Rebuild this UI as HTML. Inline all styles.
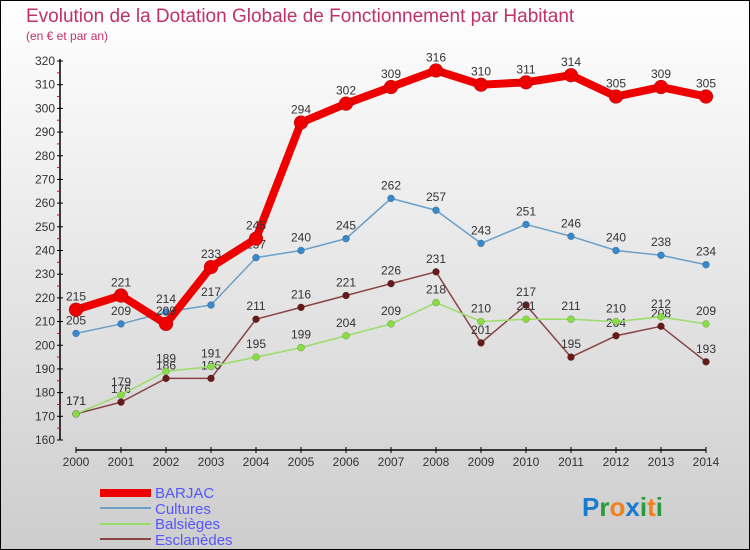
<!DOCTYPE html>
<html><head><meta charset="utf-8"><style>
html,body{margin:0;padding:0}
body{width:750px;height:550px;overflow:hidden;font-family:"Liberation Sans",sans-serif}
svg{display:block}
</style></head><body>
<svg id="chart" width="750" height="550" xmlns="http://www.w3.org/2000/svg">
<defs><linearGradient id="bg" x1="0" y1="0" x2="0" y2="1"><stop offset="0" stop-color="#ffffff"/><stop offset="1" stop-color="#cdcdcd"/></linearGradient></defs>
<rect x="0.5" y="0.5" width="749" height="549" fill="url(#bg)" stroke="#000"/>
<text x="26" y="22" font-size="19" fill="#c0306a">Evolution de la Dotation Globale de Fonctionnement par Habitant</text>
<text x="26" y="40" font-size="12" fill="#c0306a">(en € et par an)</text>
<g id="axes"></g>
<g id="series"></g>
<g>
<rect x="100" y="489" width="51" height="8" fill="#e00"/>
<text x="155" y="498" font-size="15" fill="#5555ff">BARJAC</text>
<line x1="100" y1="508" x2="151" y2="508" stroke="#6a9fc8" stroke-width="2"/>
<text x="155" y="514" font-size="15" fill="#5555ff">Cultures</text>
<line x1="100" y1="524" x2="151" y2="524" stroke="#99dd66" stroke-width="2"/>
<text x="155" y="529" font-size="15" fill="#5555ff">Balsièges</text>
<line x1="100" y1="539" x2="151" y2="539" stroke="#884444" stroke-width="2"/>
<text x="155" y="545" font-size="15" fill="#5555ff">Esclanèdes</text>
</g>
<text x="582" y="516" font-size="26" font-weight="bold"><tspan fill="#1a7ad0">P</tspan><tspan fill="#2a9a3a">r</tspan><tspan fill="#f08020">o</tspan><tspan fill="#1a7ad0">x</tspan><tspan fill="#2a9a3a">i</tspan><tspan fill="#f08020">t</tspan><tspan fill="#2a9a3a">i</tspan></text>
</svg>
<script>
const years=[2000,2001,2002,2003,2004,2005,2006,2007,2008,2009,2010,2011,2012,2013,2014];
const barjac=[215,221,209,233,245,294,302,309,316,310,311,314,305,309,305];
const cultures=[205,209,214,217,237,240,245,262,257,243,251,246,240,238,234];
const balsieges=[171,179,189,191,195,199,204,209,218,210,211,211,210,212,209];
const esclanedes=[171,176,186,186,211,216,221,226,231,201,217,195,204,208,193];
const yTicks=[160,170,180,190,200,210,220,230,240,250,260,270,280,290,300,310,320];
const NS="http://www.w3.org/2000/svg";
const X=i=>76+i*45, Y=v=>440-(v-160)*(379/160);
function mk(tag,attrs,parent,txt){const e=document.createElementNS(NS,tag);for(const k in attrs)e.setAttribute(k,attrs[k]);if(txt!==undefined)e.textContent=txt;parent.appendChild(e);return e;}
const ax=document.getElementById('axes');
let e=mk('line',{x1:60,y1:Y(320)-2,x2:60,y2:440,stroke:'#000','stroke-width':1.5},ax);


e=mk('line',{x1:76,y1:450,x2:706,y2:450,stroke:'#000','stroke-width':1.5},ax);


yTicks.forEach(v=>{
 mk('line',{x1:57,y1:Y(v),x2:63,y2:Y(v),stroke:'#000'},ax);
 if(v<320) mk('line',{x1:57,y1:Y(v+5),x2:60,y2:Y(v+5),stroke:'#e00'},ax);
 const t=mk('text',{x:55,y:Y(v)+4,'font-size':12,'text-anchor':'end',fill:'#333'},ax,v);
 
 
});
years.forEach((yr,i)=>{
 mk('line',{x1:X(i),y1:447,x2:X(i),y2:453,stroke:'#000'},ax);
 const t=mk('text',{x:X(i),y:466,'font-size':12,'text-anchor':'middle',fill:'#333'},ax,yr);
 
 
});
const sg=document.getElementById('series');
function draw(vals,name,color,w,r,dot){
 const g=mk('g',{},sg);
 
 
 const l=mk('polyline',{points:vals.map((v,i)=>X(i)+','+Y(v)).join(' '),fill:'none',stroke:color,'stroke-width':w,'stroke-linejoin':'round'},g);
 
 
 vals.forEach((v,i)=>{
  const c=mk('circle',{cx:X(i),cy:Y(v),r:r,fill:dot,stroke:'rgba(0,0,0,0.3)','stroke-width':0.5},g);
  
  
  const t=mk('text',{x:X(i),y:Y(v)-9,'font-size':12,'text-anchor':'middle',fill:'#333'},g,v);
  
  
 });
}
draw(esclanedes,'esclanedes','#884444',1.5,3.5,'#661a1a');
draw(balsieges,'balsieges','#99dd66',1.5,3.5,'#88dd44');
draw(cultures,'cultures','#6a9fc8',1.5,3.5,'#3a88cc');
draw(barjac,'barjac','#ee0000',8,7,'#ee0000');
</script>
</body></html>
